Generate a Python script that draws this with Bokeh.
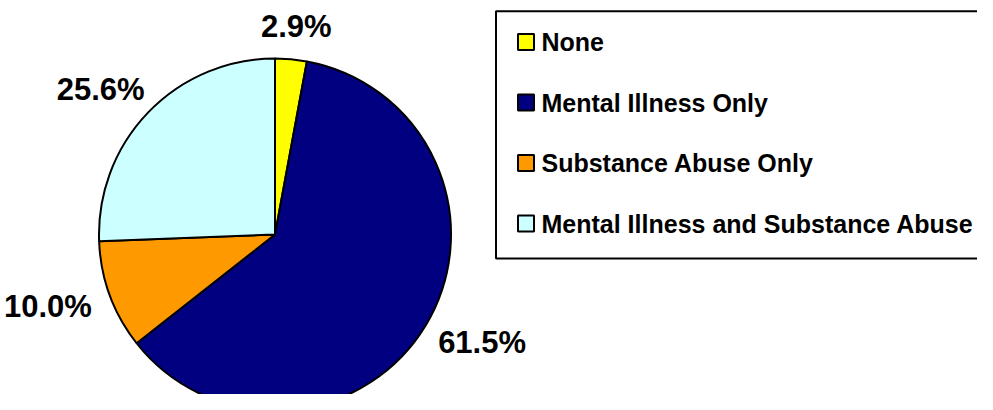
import math
from bokeh.plotting import figure
from bokeh.models import Range1d, ColumnDataSource
from bokeh.core.properties import value
from bokeh.embed import file_html
from bokeh.resources import INLINE

# ---- data ----
categories = ["None", "Mental Illness Only", "Substance Abuse Only",
              "Mental Illness and Substance Abuse"]
percent = [2.9, 61.5, 10.0, 25.6]
label_text = ["2.9%", "61.5%", "10.0%", "25.6%"]
colors = ["#FFFF00", "#000080", "#FF9900", "#CCFFFF"]

W, H = 977, 394
p = figure(width=W, height=H, output_backend="svg", toolbar_location=None,
           x_range=Range1d(0, W), y_range=Range1d(0, H),
           x_axis_type=None, y_axis_type=None, min_border=0,
           outline_line_color=None, background_fill_color="white",
           border_fill_color="white")
p.grid.visible = False

FONT = value("Liberation Sans")

# ---- pie ----
cx, cy, R = 274.5, 160, 176
total = sum(percent)
cum = 0.0
starts, ends, mids = [], [], []
for v in percent:
    a0 = cum / total
    cum += v
    a1 = cum / total
    starts.append(math.pi / 2 - 2 * math.pi * a0)
    ends.append(math.pi / 2 - 2 * math.pi * a1)
    mids.append(math.pi * (a0 + a1))  # clockwise from 12 o'clock

src = ColumnDataSource(dict(start=starts, end=ends, color=colors))
p.wedge(x=cx, y=cy, radius=R, radius_units="screen", start_angle="start",
        end_angle="end", direction="clock", fill_color="color",
        line_color="black", line_width=2, source=src)

# ---- data labels (outside end) ----
fs = 31
cw = {".": 0.278, "%": 0.889}
lx, ly = [], []
gap = 22
for t, th in zip(label_text, mids):
    w = fs * sum(cw.get(c, 0.556) for c in t)
    h = 0.716 * fs
    ux, uy = math.sin(th), math.cos(th)
    lx.append(cx + ux * (R + gap) + ux * w / 2)
    ly.append(cy + uy * (R + gap) + uy * h / 2)
p.text(x=lx, y=ly, text=label_text, text_font=FONT, text_font_style="bold",
       text_font_size=f"{fs}px", text_align="center", text_baseline="middle",
       text_color="black")

# ---- legend ----
p.quad(left=495.5, right=1010, top=383.3, bottom=136, fill_color="white",
       line_color="black", line_width=2)
row_y = [352.5 - 60.5 * i for i in range(len(categories))]
p.rect(x=525.5, y=row_y, width=16, height=16, width_units="screen",
       height_units="screen", fill_color=colors, line_color="black",
       line_width=2)
p.text(x=541, y=row_y, text=categories, text_font=FONT,
       text_font_style="bold", text_font_size="25px", text_align="left",
       text_baseline="middle", text_color="black")

open("out.html", "w").write(file_html(p, INLINE))
